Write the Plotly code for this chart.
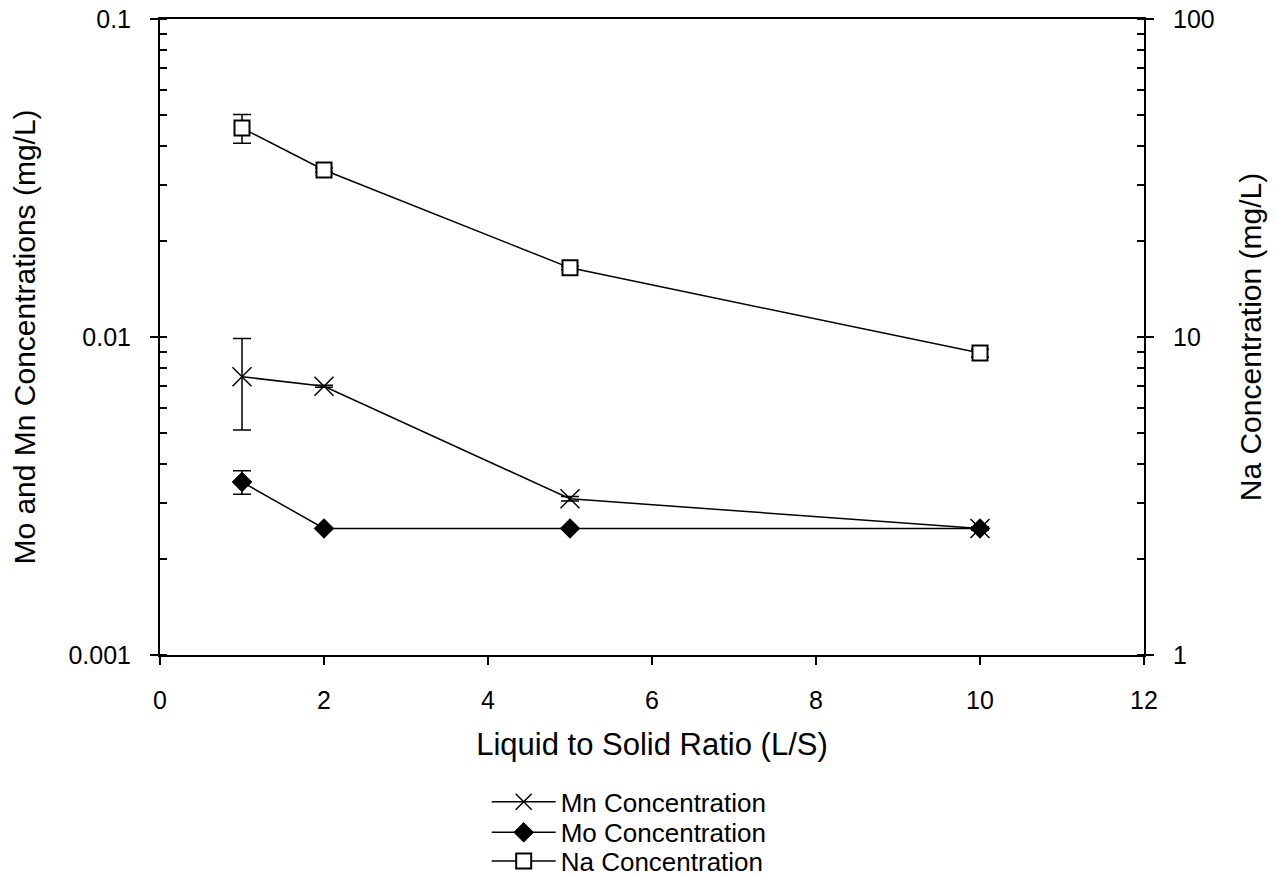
import plotly.graph_objects as go

ls_ratio = [1, 2, 5, 10]

mn_conc = [0.0075, 0.0070, 0.0031, 0.0025]
mn_err = [0.0024, 0.00005, 0.00005, 0.00003]

mo_conc = [0.0035, 0.0025, 0.0025, 0.0025]
mo_err = [0.0003, 0.0, 0.0, 0.00003]

na_conc = [45.4, 33.5, 16.5, 8.9]
na_err = [4.7, 0.5, 0.2, 0.25]

FONT = "Liberation Sans, Arial, sans-serif"

fig = go.Figure()

fig.add_trace(go.Scatter(
    x=ls_ratio, y=mn_conc, name="Mn Concentration", mode="lines+markers", legend="legend",
    line=dict(color="black", width=1.5),
    marker=dict(symbol="x-thin-open", size=19, color="black", line=dict(color="black", width=1.5)),
    error_y=dict(type="data", array=mn_err, visible=True, color="black", thickness=1.5, width=9),
))
fig.add_trace(go.Scatter(
    x=ls_ratio, y=mo_conc, name="Mo Concentration", mode="lines+markers", legend="legend2",
    line=dict(color="black", width=1.5),
    marker=dict(symbol="diamond", size=15, color="black", line=dict(color="black", width=1)),
    error_y=dict(type="data", array=mo_err, visible=True, color="black", thickness=1.5, width=9),
))
fig.add_trace(go.Scatter(
    x=ls_ratio, y=na_conc, name="Na Concentration", mode="lines+markers", yaxis="y2", legend="legend3",
    line=dict(color="black", width=1.5),
    marker=dict(symbol="square", size=15, color="white", line=dict(color="black", width=2)),
    error_y=dict(type="data", array=na_err, visible=True, color="black", thickness=1.5, width=9),
))

axis_common = dict(
    showline=True, linecolor="black", linewidth=2, showgrid=False, zeroline=False,
    ticks="outside", ticklen=8, tickwidth=2, tickcolor="black", ticklabelstandoff=14,
    tickfont=dict(family=FONT, size=25, color="black"),
)

legend_common = dict(
    x=0.332, xanchor="left", yanchor="middle",
    font=dict(family=FONT, size=26, color="black"),
    bgcolor="rgba(0,0,0,0)", itemwidth=64, tracegroupgap=0,
)

fig.update_layout(
    width=1277, height=877,
    margin=dict(l=160, r=133, t=19, b=222, autoexpand=False),
    paper_bgcolor="white", plot_bgcolor="white",
    font=dict(family=FONT, color="black"),
    xaxis=dict(
        **axis_common, range=[0, 12], dtick=2, mirror=True,
        title=dict(text="Liquid to Solid Ratio (L/S)", font=dict(family=FONT, size=31), standoff=20),
    ),
    yaxis=dict(
        **axis_common, type="log", range=[-3, -1], dtick=1,
        minor=dict(ticks="inside", ticklen=7, tickwidth=2, tickcolor="black", showgrid=False),
        title=dict(text="Mo and Mn Concentrations (mg/L)", font=dict(family=FONT, size=30), standoff=24),
    ),
    yaxis2=dict(
        **axis_common, type="log", range=[0, 2], dtick=1, overlaying="y", side="right",
        minor=dict(ticks="inside", ticklen=7, tickwidth=2, tickcolor="black", showgrid=False),
        title=dict(text="Na Concentration (mg/L)", font=dict(family=FONT, size=30), standoff=26),
    ),
    showlegend=True,
    legend=dict(**legend_common, y=-0.231),
    legend2=dict(**legend_common, y=-0.279),
    legend3=dict(**legend_common, y=-0.324),
)

fig.write_html("out.html")
